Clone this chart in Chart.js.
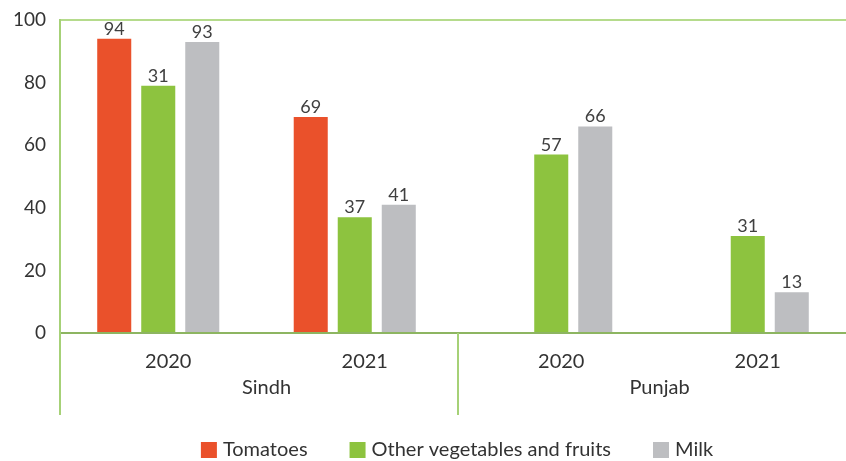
<!DOCTYPE html>
<html>
<head>
<meta charset="utf-8">
<script src="https://cdn.jsdelivr.net/npm/chart.js@4"></script>
<style>
  html, body { margin: 0; padding: 0; background: #ffffff; }
  #wrap { width: 846px; height: 461px; }
</style>
</head>
<body>
<div id="wrap"><canvas id="c" width="846" height="461"></canvas></div>
<script>
// ---- data ----
const years = ["2020", "2021", "2020", "2021"];
const regions = ["Sindh", "Punjab"];
const tomatoes = [94, 69, null, null];
const otherVeg = [79, 37, 57, 31];
const milk = [93, 41, 66, 13];
// labels as printed in the source
const tomatoLabels = ["94", "69", "", ""];
const otherVegLabels = ["31", "37", "57", "31"];
const milkLabels = ["93", "41", "66", "13"];
const yTicks = [0, 20, 40, 60, 80, 100];

const FONT = "Lato, 'Open Sans', sans-serif";
const TEXT = "#333333";

const valueLabels = {
  id: 'valueLabels',
  afterDatasetsDraw(chart) {
    const ctx = chart.ctx;
    ctx.save();
    ctx.font = "18px " + FONT;
    ctx.fillStyle = "#404040";
    ctx.textAlign = "center";
    ctx.textBaseline = "alphabetic";
    chart.data.datasets.forEach((ds, i) => {
      const meta = chart.getDatasetMeta(i);
      meta.data.forEach((bar, j) => {
        if (ds.data[j] == null) return;
        ctx.fillText(ds.printed[j], bar.x, bar.y - 4);
      });
    });
    ctx.restore();
  }
};

const axisDecor = {
  id: 'axisDecor',
  afterDraw(chart) {
    const ctx = chart.ctx;
    const x = chart.scales.x;
    const area = chart.chartArea;
    ctx.save();
    // separators
    ctx.strokeStyle = "#A6D177";
    ctx.lineWidth = 2;
    const sepX = [area.left, (x.getPixelForValue(1) + x.getPixelForValue(2)) / 2 + 5];
    sepX.forEach(px => {
      ctx.beginPath();
      ctx.moveTo(Math.round(px), area.bottom);
      ctx.lineTo(Math.round(px), area.bottom + 82);
      ctx.stroke();
    });
    // year labels
    ctx.fillStyle = TEXT;
    ctx.font = "20px " + FONT;
    ctx.textAlign = "center";
    ctx.textBaseline = "middle";
    const off = 10;
    years.forEach((y, i) => {
      ctx.fillText(y, x.getPixelForValue(i) + off, area.bottom + 29);
    });
    regions.forEach((r, k) => {
      const cx = (x.getPixelForValue(2 * k) + x.getPixelForValue(2 * k + 1)) / 2;
      ctx.fillText(r, cx + off, area.bottom + 55);
    });
    // legend
    ctx.font = "20px " + FONT;
    ctx.textAlign = "left";
    const box = 16, gapBT = 6, gapItem = 42;
    const items = chart.data.datasets.map(d => ({ t: d.label, c: d.backgroundColor }));
    let total = 0;
    items.forEach((it, i) => {
      it.w = ctx.measureText(it.t).width;
      total += box + gapBT + it.w + (i < items.length - 1 ? gapItem : 0);
    });
    let lx = (area.left + area.right) / 2 + 4 - total / 2;
    const ly = 450;
    items.forEach(it => {
      ctx.fillStyle = it.c;
      ctx.fillRect(lx, ly - box / 2, box, box);
      ctx.fillStyle = TEXT;
      ctx.fillText(it.t, lx + box + gapBT, ly);
      lx += box + gapBT + it.w + gapItem;
    });
    ctx.restore();
  }
};

new Chart(document.getElementById('c'), {
  type: 'bar',
  data: {
    labels: years,
    datasets: [
      { label: "Tomatoes", data: tomatoes, printed: tomatoLabels, backgroundColor: "#EA512B" },
      { label: "Other vegetables and fruits", data: otherVeg, printed: otherVegLabels, backgroundColor: "#8DC33F" },
      { label: "Milk", data: milk, printed: milkLabels, backgroundColor: "#BDBEC1" }
    ]
  },
  options: {
    responsive: false,
    animation: false,
    layout: { padding: { top: 20, left: 0, right: 0, bottom: 0 } },
    datasets: { bar: { categoryPercentage: 0.672, barPercentage: 0.773, skipNull: false } },
    plugins: { legend: { display: false }, tooltip: { enabled: false } },
    scales: {
      x: {
        grid: { display: false, drawTicks: false },
        border: { display: true, color: "#8DB561", width: 2 },
        ticks: { display: false },
        afterFit(s) { s.height = 128; s.paddingLeft = 0; s.paddingRight = 0; }
      },
      y: {
        min: 0, max: 100,
        afterBuildTicks(s) { s.ticks = yTicks.map(v => ({ value: v })); },
        grid: {
          drawTicks: false,
          color: c => (c.tick && c.tick.value === 100) ? "#B5DB8C" : "rgba(0,0,0,0)",
          lineWidth: 2
        },
        border: { display: true, color: "#A6D177", width: 2 },
        ticks: { font: { size: 19, family: FONT }, color: TEXT, padding: 14 },
        afterFit(s) { s.width = 60; s.paddingTop = 0; s.paddingBottom = 0; }
      }
    }
  },
  plugins: [valueLabels, axisDecor]
});
</script>
</body>
</html>
